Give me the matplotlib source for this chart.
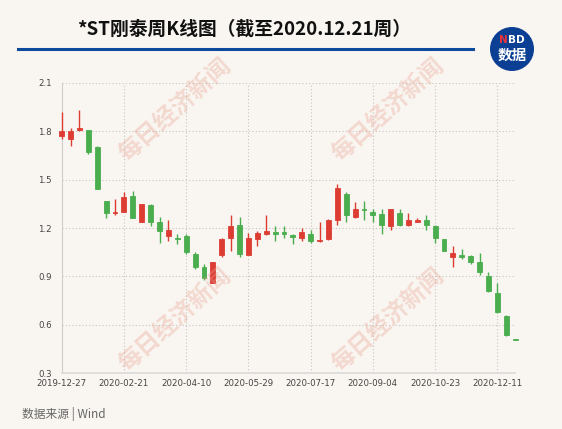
import matplotlib
matplotlib.use("Agg")
import matplotlib.pyplot as plt
from matplotlib.patches import Circle
import numpy as np

# weekly candles, *ST刚泰
weeks = ["2019-12-27", "2020-01-03", "2020-01-10", "2020-01-17", "2020-01-23",
         "2020-02-07", "2020-02-14", "2020-02-21", "2020-02-28", "2020-03-06",
         "2020-03-13", "2020-03-20", "2020-03-27", "2020-04-03", "2020-04-10",
         "2020-04-17", "2020-04-24", "2020-04-30", "2020-05-08", "2020-05-15",
         "2020-05-22", "2020-05-29", "2020-06-05", "2020-06-12", "2020-06-19",
         "2020-06-24", "2020-07-03", "2020-07-10", "2020-07-17", "2020-07-24",
         "2020-07-31", "2020-08-07", "2020-08-14", "2020-08-21", "2020-08-28",
         "2020-09-04", "2020-09-11", "2020-09-18", "2020-09-25", "2020-09-30",
         "2020-10-09", "2020-10-16", "2020-10-23", "2020-10-30", "2020-11-06",
         "2020-11-13", "2020-11-20", "2020-11-27", "2020-12-04", "2020-12-11",
         "2020-12-18", "2020-12-21"]
opens = [1.77, 1.75, 1.81, 1.81, 1.70, 1.37, 1.295, 1.30, 1.40, 1.24,
         1.34, 1.24, 1.15, 1.14, 1.15, 1.04, 0.96, 0.86, 1.03, 1.14,
         1.22, 1.03, 1.13, 1.16, 1.175, 1.175, 1.155, 1.14, 1.165, 1.12,
         1.13, 1.25, 1.41, 1.27, 1.32, 1.30, 1.285, 1.21, 1.29, 1.22,
         1.24, 1.25, 1.21, 1.13, 1.02, 1.03, 1.025, 0.99, 0.90, 0.80,
         0.655, 0.512]
highs = [1.92, 1.82, 1.93, 1.81, 1.71, 1.37, 1.38, 1.42, 1.43, 1.35,
         1.35, 1.27, 1.25, 1.16, 1.16, 1.05, 0.98, 0.99, 1.14, 1.28,
         1.27, 1.17, 1.18, 1.28, 1.21, 1.21, 1.16, 1.20, 1.19, 1.235,
         1.255, 1.47, 1.42, 1.36, 1.37, 1.32, 1.32, 1.32, 1.32, 1.29,
         1.26, 1.28, 1.22, 1.135, 1.09, 1.07, 1.035, 1.045, 0.93, 0.86,
         0.66, 0.512]
lows = [1.75, 1.71, 1.80, 1.66, 1.44, 1.26, 1.28, 1.30, 1.26, 1.24,
        1.21, 1.11, 1.12, 1.10, 1.04, 0.945, 0.88, 0.86, 1.02, 1.06,
        1.02, 1.03, 1.09, 1.155, 1.12, 1.14, 1.10, 1.12, 1.11, 1.115,
        1.125, 1.22, 1.24, 1.26, 1.25, 1.24, 1.16, 1.19, 1.21, 1.21,
        1.235, 1.19, 1.11, 1.055, 0.96, 1.01, 0.98, 0.91, 0.805, 0.675,
        0.53, 0.508]
closes = [1.80, 1.80, 1.82, 1.67, 1.44, 1.29, 1.30, 1.39, 1.26, 1.35,
          1.24, 1.18, 1.19, 1.13, 1.05, 0.96, 0.89, 0.99, 1.13, 1.21,
          1.04, 1.14, 1.17, 1.18, 1.165, 1.165, 1.145, 1.175, 1.12, 1.125,
          1.25, 1.45, 1.28, 1.32, 1.31, 1.28, 1.22, 1.32, 1.22, 1.25,
          1.25, 1.22, 1.14, 1.06, 1.045, 1.02, 0.99, 0.93, 0.81, 0.68,
          0.535, 0.508]
yticks = [0.3, 0.6, 0.9, 1.2, 1.5, 1.8, 2.1]

bg = '#f9f6f1'
up_c = '#dd3c33'
down_c = '#4aad4e'

fig = plt.figure(figsize=(5.62, 4.29), dpi=100, facecolor=bg)
ax = fig.add_axes([0.1098, 0.1298, 0.8068, 0.6774])
ax.set_facecolor(bg)

x = np.arange(len(weeks))
o = np.array(opens); c = np.array(closes)
cols = [up_c if cc >= oo else down_c for oo, cc in zip(o, c)]
ax.vlines(x, lows, highs, colors=cols, linewidth=1, zorder=3, clip_on=False)
ax.bar(x, c - o, bottom=o, width=0.55, color=cols, edgecolor=cols,
       linewidth=0.6, zorder=4, clip_on=False)

ax.set_xlim(0, len(weeks) - 1)
ax.set_ylim(0.3, 2.1)
ax.set_yticks(yticks)
ax.set_yticklabels([f"{v:.1f}" for v in yticks])
ax.set_xticks(x[::7])
ax.set_xticklabels(weeks[::7])
ax.tick_params(length=0, labelsize=6.2, colors='#444444')
ax.tick_params(axis='y', pad=7)
ax.tick_params(axis='x', pad=4)

for v in yticks[1:]:
    ax.axhline(v, color='#c4c4c4', lw=0.8, ls=(0, (1, 2)), zorder=1)
for xv in x[::7][1:]:
    ax.axvline(xv, color='#c4c4c4', lw=0.8, ls=(0, (1, 2)), zorder=1)

for s in ['top', 'right']:
    ax.spines[s].set_visible(False)
ax.spines['left'].set_color('#cfcfcf')
ax.spines['bottom'].set_color('#dadada')
ax.spines['bottom'].set_linewidth(1.2)

# watermarks
for (px, py) in [(175, 110), (175, 320), (388, 110), (388, 320)]:
    fig.text(px / 562, 1 - py / 429, "每日经济新闻", rotation=42,
             ha='center', va='center', fontsize=17, fontweight='bold',
             family='Noto Sans CJK SC', color='#e8a090', alpha=0.35, zorder=0)

# title and rule
fig.text(77 / 562, 1 - 29 / 429, "*ST刚泰周K线图（截至2020.12.21周）",
         ha='left', va='center', fontsize=13.5, fontweight='bold',
         family=['Noto Sans CJK SC', 'DejaVu Sans'], color='#111111')
fig.add_artist(plt.Line2D([18 / 562, 473 / 562], [1 - 49 / 429, 1 - 49 / 429],
                          color='#0d4a9e', lw=2.2))

# NBD logo
fig.add_artist(Circle((5.12, (429 - 49) / 100), 0.22, transform=fig.dpi_scale_trans,
                      facecolor='#0a3f93', edgecolor='none'))
fig.text(503.5 / 562, 1 - 40 / 429, "N", ha='center', va='center', fontsize=7.5,
         fontweight='bold', family='DejaVu Sans', color='#e8333a')
fig.text(516 / 562, 1 - 40 / 429, "BD", ha='center', va='center', fontsize=7.5,
         fontweight='bold', family='DejaVu Sans', color='white')
fig.text(512 / 562, 1 - 55 / 429, "数据", ha='center', va='center', fontsize=10.5,
         fontweight='bold', family='Noto Sans CJK SC', color='white')

fig.text(22 / 562, 1 - 414 / 429, "数据来源 | Wind", ha='left', va='center',
         fontsize=8.5, family=['Noto Sans CJK SC', 'DejaVu Sans'], color='#666666')

fig.savefig("out.png", dpi=100, facecolor=bg)
